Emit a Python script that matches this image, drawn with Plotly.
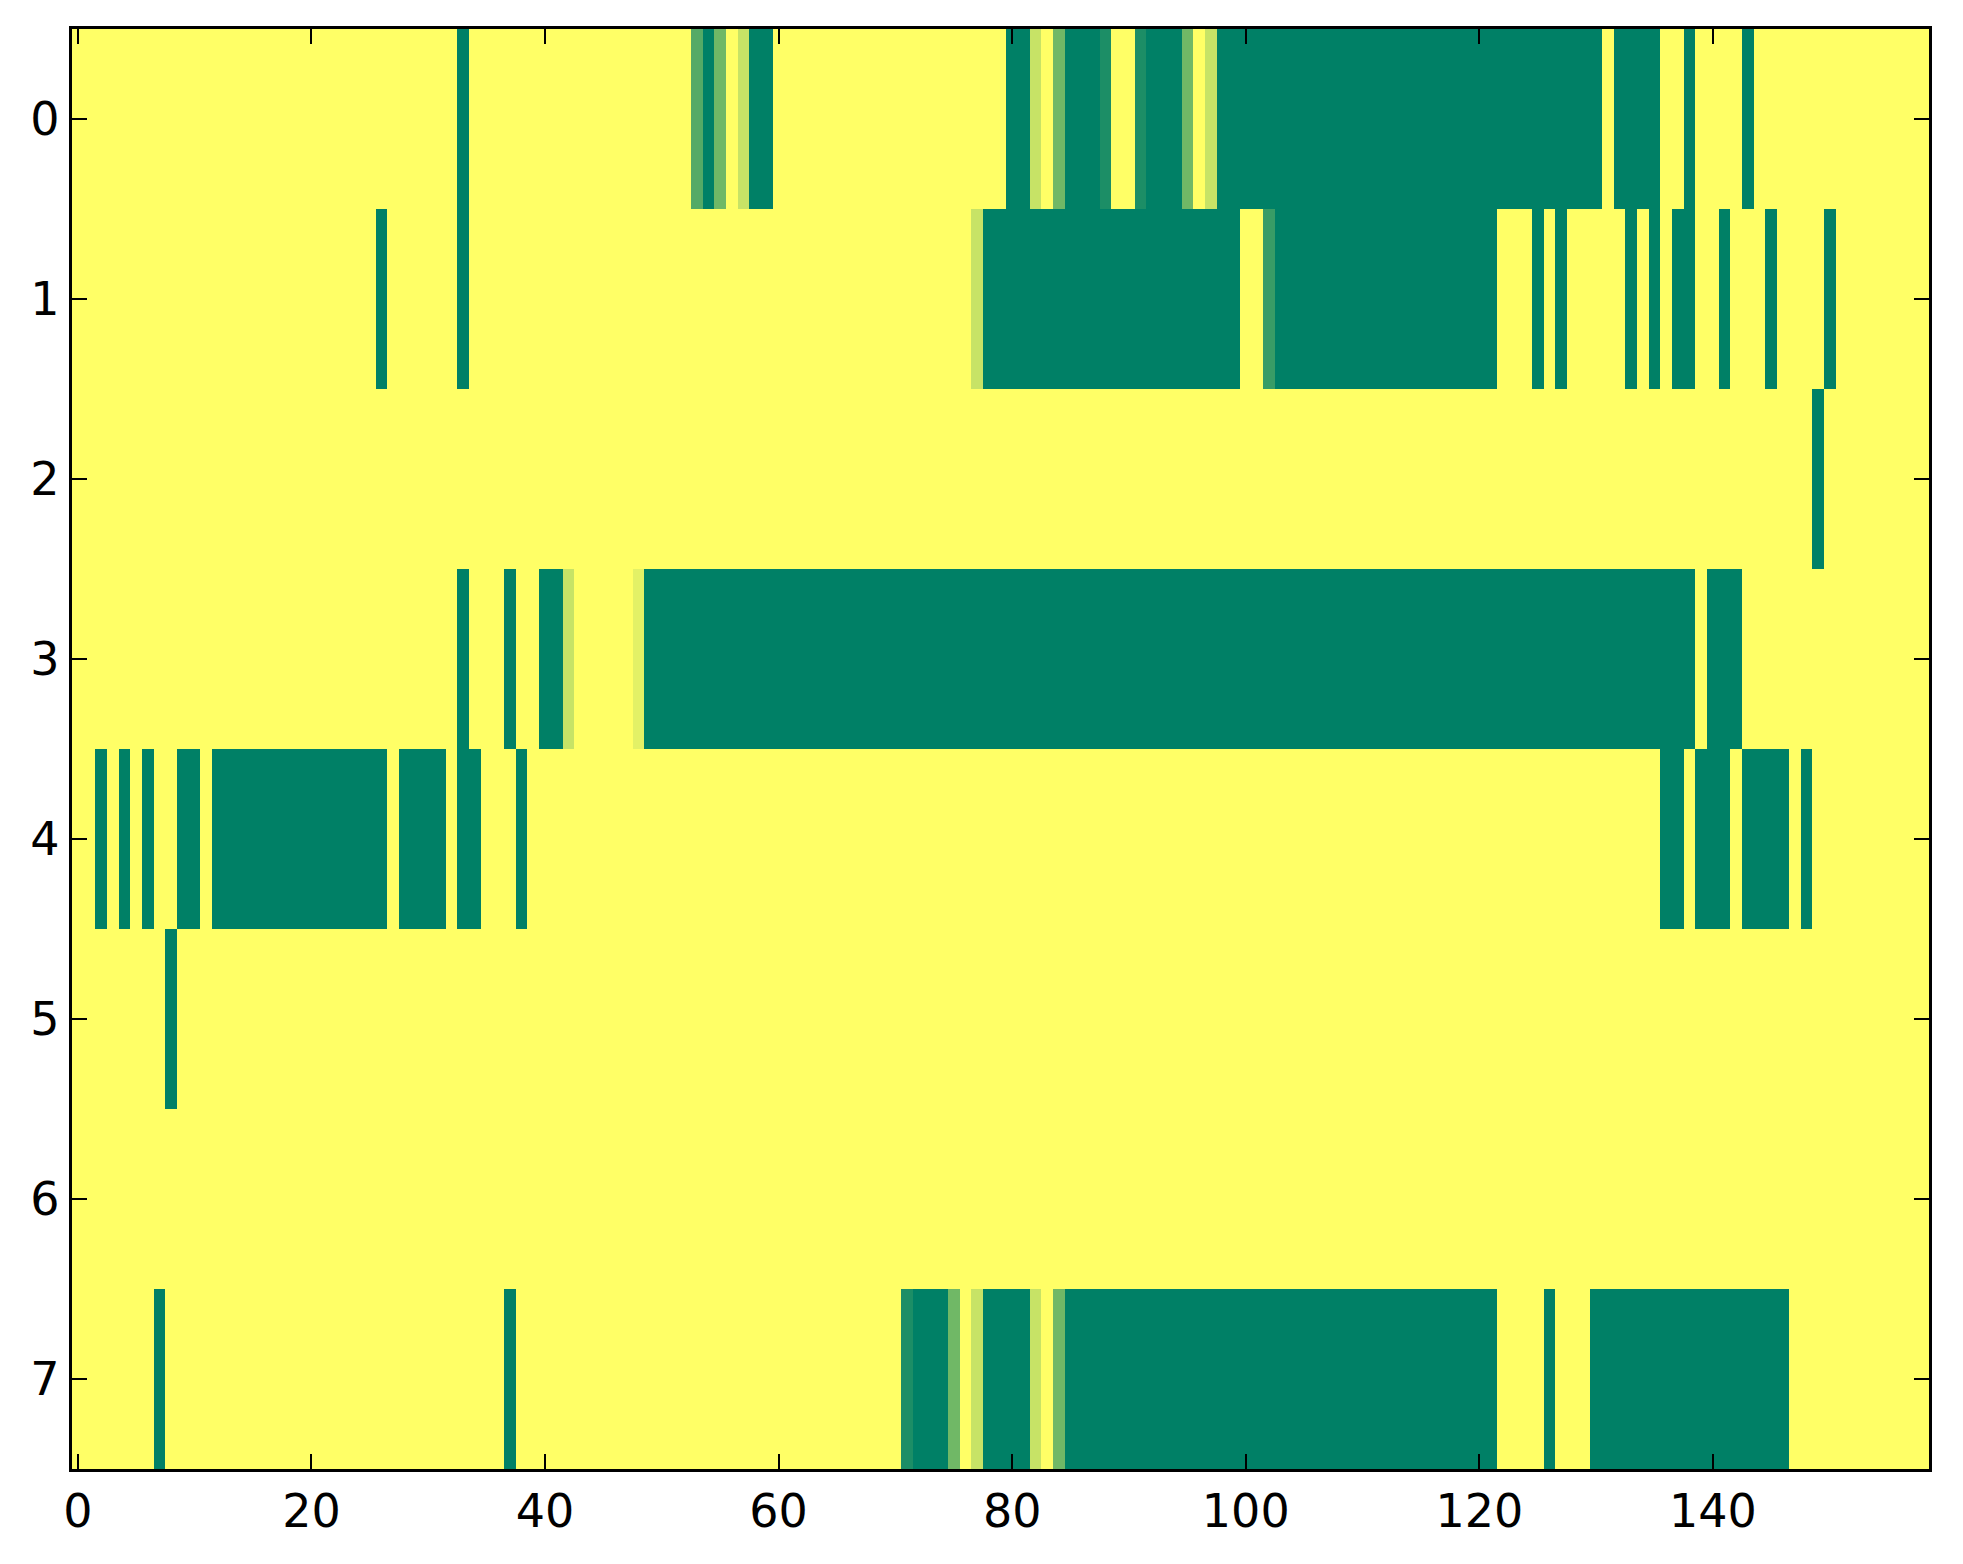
import plotly.graph_objects as go

# one list per image row, 159 columns each (0..158), 1 = yellow, 0 = green
row0 = [1, 1, 1, 1, 1, 1, 1, 1, 1, 1, 1, 1, 1, 1, 1, 1, 1, 1, 1, 1,
        1, 1, 1, 1, 1, 1, 1, 1, 1, 1, 1, 1, 1, 0, 1, 1, 1, 1, 1, 1,
        1, 1, 1, 1, 1, 1, 1, 1, 1, 1, 1, 1, 1, .33, 0, .44, 1, .78, 0, 0,
        1, 1, 1, 1, 1, 1, 1, 1, 1, 1, 1, 1, 1, 1, 1, 1, 1, 1, 1, 1,
        0, 0, .78, 1, .44, 0, 0, 0, .11, 1, 1, .11, 0, 0, 0, .44, 1, .78, 0, 0,
        0, 0, 0, 0, 0, 0, 0, 0, 0, 0, 0, 0, 0, 0, 0, 0, 0, 0, 0, 0,
        0, 0, 0, 0, 0, 0, 0, 0, 0, 0, 0, 1, 0, 0, 0, 0, 1, 1, 0, 1,
        1, 1, 1, 0, 1, 1, 1, 1, 1, 1, 1, 1, 1, 1, 1, 1, 1, 1, 1]
row1 = [1, 1, 1, 1, 1, 1, 1, 1, 1, 1, 1, 1, 1, 1, 1, 1, 1, 1, 1, 1,
        1, 1, 1, 1, 1, 1, 0, 1, 1, 1, 1, 1, 1, 0, 1, 1, 1, 1, 1, 1,
        1, 1, 1, 1, 1, 1, 1, 1, 1, 1, 1, 1, 1, 1, 1, 1, 1, 1, 1, 1,
        1, 1, 1, 1, 1, 1, 1, 1, 1, 1, 1, 1, 1, 1, 1, 1, 1, .78, 0, 0,
        0, 0, 0, 0, 0, 0, 0, 0, 0, 0, 0, 0, 0, 0, 0, 0, 0, 0, 0, 0,
        1, 1, .22, 0, 0, 0, 0, 0, 0, 0, 0, 0, 0, 0, 0, 0, 0, 0, 0, 0,
        0, 0, 1, 1, 1, 0, 1, 0, 1, 1, 1, 1, 1, 0, 1, 0, 1, 0, 0, 1,
        1, 0, 1, 1, 1, 0, 1, 1, 1, 1, 0, 1, 1, 1, 1, 1, 1, 1, 1]
row2 = [1, 1, 1, 1, 1, 1, 1, 1, 1, 1, 1, 1, 1, 1, 1, 1, 1, 1, 1, 1,
        1, 1, 1, 1, 1, 1, 1, 1, 1, 1, 1, 1, 1, 1, 1, 1, 1, 1, 1, 1,
        1, 1, 1, 1, 1, 1, 1, 1, 1, 1, 1, 1, 1, 1, 1, 1, 1, 1, 1, 1,
        1, 1, 1, 1, 1, 1, 1, 1, 1, 1, 1, 1, 1, 1, 1, 1, 1, 1, 1, 1,
        1, 1, 1, 1, 1, 1, 1, 1, 1, 1, 1, 1, 1, 1, 1, 1, 1, 1, 1, 1,
        1, 1, 1, 1, 1, 1, 1, 1, 1, 1, 1, 1, 1, 1, 1, 1, 1, 1, 1, 1,
        1, 1, 1, 1, 1, 1, 1, 1, 1, 1, 1, 1, 1, 1, 1, 1, 1, 1, 1, 1,
        1, 1, 1, 1, 1, 1, 1, 1, 1, 0, 1, 1, 1, 1, 1, 1, 1, 1, 1]
row3 = [1, 1, 1, 1, 1, 1, 1, 1, 1, 1, 1, 1, 1, 1, 1, 1, 1, 1, 1, 1,
        1, 1, 1, 1, 1, 1, 1, 1, 1, 1, 1, 1, 1, 0, 1, 1, 1, 0, 1, 1,
        0, 0, .78, 1, 1, 1, 1, 1, .89, 0, 0, 0, 0, 0, 0, 0, 0, 0, 0, 0,
        0, 0, 0, 0, 0, 0, 0, 0, 0, 0, 0, 0, 0, 0, 0, 0, 0, 0, 0, 0,
        0, 0, 0, 0, 0, 0, 0, 0, 0, 0, 0, 0, 0, 0, 0, 0, 0, 0, 0, 0,
        0, 0, 0, 0, 0, 0, 0, 0, 0, 0, 0, 0, 0, 0, 0, 0, 0, 0, 0, 0,
        0, 0, 0, 0, 0, 0, 0, 0, 0, 0, 0, 0, 0, 0, 0, 0, 0, 0, 0, 1,
        0, 0, 0, 1, 1, 1, 1, 1, 1, 1, 1, 1, 1, 1, 1, 1, 1, 1, 1]
row4 = [1, 1, 0, 1, 0, 1, 0, 1, 1, 0, 0, 1, 0, 0, 0, 0, 0, 0, 0, 0,
        0, 0, 0, 0, 0, 0, 0, 1, 0, 0, 0, 0, 1, 0, 0, 1, 1, 1, 0, 1,
        1, 1, 1, 1, 1, 1, 1, 1, 1, 1, 1, 1, 1, 1, 1, 1, 1, 1, 1, 1,
        1, 1, 1, 1, 1, 1, 1, 1, 1, 1, 1, 1, 1, 1, 1, 1, 1, 1, 1, 1,
        1, 1, 1, 1, 1, 1, 1, 1, 1, 1, 1, 1, 1, 1, 1, 1, 1, 1, 1, 1,
        1, 1, 1, 1, 1, 1, 1, 1, 1, 1, 1, 1, 1, 1, 1, 1, 1, 1, 1, 1,
        1, 1, 1, 1, 1, 1, 1, 1, 1, 1, 1, 1, 1, 1, 1, 1, 0, 0, 1, 0,
        0, 0, 1, 0, 0, 0, 0, 1, 0, 1, 1, 1, 1, 1, 1, 1, 1, 1, 1]
row5 = [1, 1, 1, 1, 1, 1, 1, 1, 0, 1, 1, 1, 1, 1, 1, 1, 1, 1, 1, 1,
        1, 1, 1, 1, 1, 1, 1, 1, 1, 1, 1, 1, 1, 1, 1, 1, 1, 1, 1, 1,
        1, 1, 1, 1, 1, 1, 1, 1, 1, 1, 1, 1, 1, 1, 1, 1, 1, 1, 1, 1,
        1, 1, 1, 1, 1, 1, 1, 1, 1, 1, 1, 1, 1, 1, 1, 1, 1, 1, 1, 1,
        1, 1, 1, 1, 1, 1, 1, 1, 1, 1, 1, 1, 1, 1, 1, 1, 1, 1, 1, 1,
        1, 1, 1, 1, 1, 1, 1, 1, 1, 1, 1, 1, 1, 1, 1, 1, 1, 1, 1, 1,
        1, 1, 1, 1, 1, 1, 1, 1, 1, 1, 1, 1, 1, 1, 1, 1, 1, 1, 1, 1,
        1, 1, 1, 1, 1, 1, 1, 1, 1, 1, 1, 1, 1, 1, 1, 1, 1, 1, 1]
row6 = [1, 1, 1, 1, 1, 1, 1, 1, 1, 1, 1, 1, 1, 1, 1, 1, 1, 1, 1, 1,
        1, 1, 1, 1, 1, 1, 1, 1, 1, 1, 1, 1, 1, 1, 1, 1, 1, 1, 1, 1,
        1, 1, 1, 1, 1, 1, 1, 1, 1, 1, 1, 1, 1, 1, 1, 1, 1, 1, 1, 1,
        1, 1, 1, 1, 1, 1, 1, 1, 1, 1, 1, 1, 1, 1, 1, 1, 1, 1, 1, 1,
        1, 1, 1, 1, 1, 1, 1, 1, 1, 1, 1, 1, 1, 1, 1, 1, 1, 1, 1, 1,
        1, 1, 1, 1, 1, 1, 1, 1, 1, 1, 1, 1, 1, 1, 1, 1, 1, 1, 1, 1,
        1, 1, 1, 1, 1, 1, 1, 1, 1, 1, 1, 1, 1, 1, 1, 1, 1, 1, 1, 1,
        1, 1, 1, 1, 1, 1, 1, 1, 1, 1, 1, 1, 1, 1, 1, 1, 1, 1, 1]
row7 = [1, 1, 1, 1, 1, 1, 1, 0, 1, 1, 1, 1, 1, 1, 1, 1, 1, 1, 1, 1,
        1, 1, 1, 1, 1, 1, 1, 1, 1, 1, 1, 1, 1, 1, 1, 1, 1, 0, 1, 1,
        1, 1, 1, 1, 1, 1, 1, 1, 1, 1, 1, 1, 1, 1, 1, 1, 1, 1, 1, 1,
        1, 1, 1, 1, 1, 1, 1, 1, 1, 1, 1, .11, 0, 0, 0, .44, 1, .78, 0, 0,
        0, 0, .78, 1, .44, 0, 0, 0, 0, 0, 0, 0, 0, 0, 0, 0, 0, 0, 0, 0,
        0, 0, 0, 0, 0, 0, 0, 0, 0, 0, 0, 0, 0, 0, 0, 0, 0, 0, 0, 0,
        0, 0, 1, 1, 1, 1, 0, 1, 1, 1, 0, 0, 0, 0, 0, 0, 0, 0, 0, 0,
        0, 0, 0, 0, 0, 0, 0, 1, 1, 1, 1, 1, 1, 1, 1, 1, 1, 1, 1]

z = [row0, row1, row2, row3, row4, row5, row6, row7]
for r in z:
    assert len(r) == 159, len(r)

# matplotlib "summer" map: green -> yellow
summer = [[0, 'rgb(0,128,102)'], [1, 'rgb(255,255,102)']]

fig = go.Figure(go.Heatmap(z=z, colorscale=summer, zmin=0, zmax=1,
                           showscale=False, xgap=0, ygap=0))

ax = dict(showline=True, linecolor='black', linewidth=3.3, mirror='ticks',
          ticks='inside', ticklen=15, tickwidth=2, tickcolor='black',
          showgrid=False, zeroline=False,
          tickfont=dict(family='DejaVu Sans', size=46, color='black'))
fig.update_xaxes(range=[-0.5, 158.5], tickvals=[0, 20, 40, 60, 80, 100, 120, 140], **ax)
fig.update_yaxes(range=[7.5, -0.5], tickvals=list(range(8)), **ax)
# page body adds an 8px offset, margins compensate for it
fig.update_layout(width=1963, height=1564, margin=dict(l=64, r=42, t=21, b=103),
                  plot_bgcolor='white', paper_bgcolor='white')
fig.write_html("out.html")
